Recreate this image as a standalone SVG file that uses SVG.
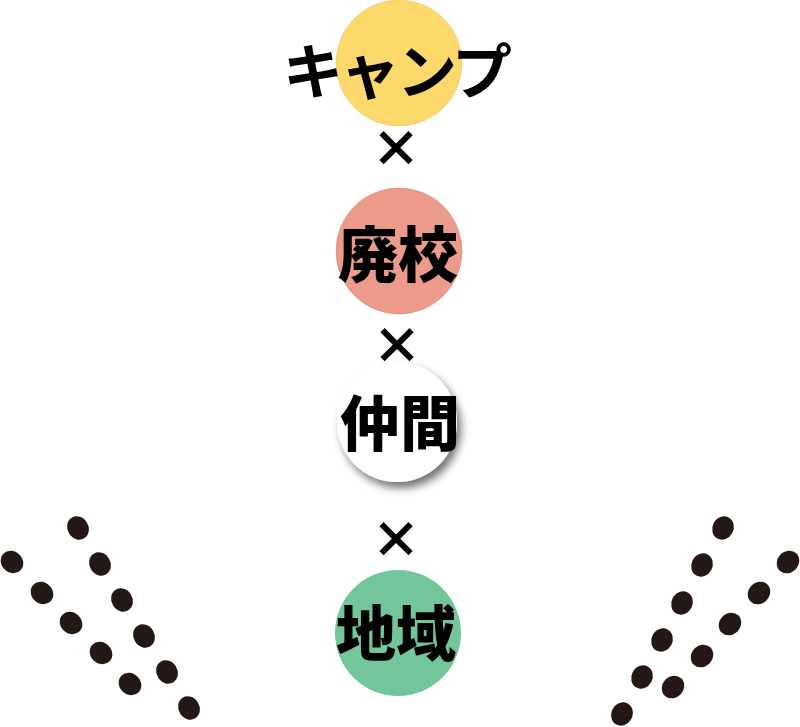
<svg xmlns="http://www.w3.org/2000/svg" width="800" height="727" viewBox="0 0 800 727">
<style>
.lbl{font-family:"Noto Sans CJK JP","Noto Sans CJK SC",sans-serif;font-weight:900;fill:#000;text-anchor:middle}
.x{font-family:"Noto Sans CJK JP","Noto Sans",sans-serif;font-weight:900;fill:#000;text-anchor:middle;font-size:50px}
.dot{fill:#231815}
</style>
<defs>
<filter id="sh" x="-30%" y="-30%" width="170%" height="170%">
<feDropShadow dx="4" dy="6" stdDeviation="4" flood-color="#000" flood-opacity="0.55"/>
</filter>
<ellipse id="d" class="dot" rx="12" ry="10.5"/>
</defs>
<rect width="800" height="727" fill="#fff"/>
<g id="camp">
<circle cx="399" cy="63" r="63" fill="#FDD96C" stroke="#e0c070" stroke-width="0.5"/>
<text class="lbl" x="396" y="94" font-size="60" letter-spacing="-3" style="font-weight:700">キャンプ</text>
</g>
<g id="haikou">
<circle cx="399" cy="251" r="63" fill="#EC9A8A" stroke="#c88070" stroke-width="0.5"/>
<text class="lbl" x="398" y="277" font-size="60">廃校</text>
</g>
<g id="times">
<text class="x" x="396" y="167">×</text>
<text class="x" x="397" y="364">×</text>
<text class="x" x="396" y="558">×</text>
</g>
<g id="nakama">
<circle cx="397" cy="422" r="60" fill="#fff" filter="url(#sh)"/>
<text class="lbl" x="400" y="446" font-size="60">仲間</text>
</g>
<g id="chiiki">
<circle cx="398" cy="633" r="63" fill="#73C59A"/>
<text class="lbl" x="396" y="656" font-size="60">地域</text>
</g>
<g id="connectors">
<g transform="translate(78,528) rotate(58)"><use href="#d"/></g>
<g transform="translate(100,564) rotate(58)"><use href="#d"/></g>
<g transform="translate(122,600) rotate(58)"><use href="#d"/></g>
<g transform="translate(144,636) rotate(58)"><use href="#d"/></g>
<g transform="translate(167,672) rotate(58)"><use href="#d"/></g>
<g transform="translate(189,708) rotate(58)"><use href="#d"/></g>
<g transform="translate(12,562) rotate(44)"><use href="#d"/></g>
<g transform="translate(42,593) rotate(44)"><use href="#d"/></g>
<g transform="translate(71,623) rotate(44)"><use href="#d"/></g>
<g transform="translate(101,653) rotate(44)"><use href="#d"/></g>
<g transform="translate(130,684) rotate(44)"><use href="#d"/></g>
<g transform="translate(723,528) rotate(-62)"><use href="#d"/></g>
<g transform="translate(702,565) rotate(-62)"><use href="#d"/></g>
<g transform="translate(682,603) rotate(-62)"><use href="#d"/></g>
<g transform="translate(662,640) rotate(-62)"><use href="#d"/></g>
<g transform="translate(642,677) rotate(-62)"><use href="#d"/></g>
<g transform="translate(622,714) rotate(-62)"><use href="#d"/></g>
<g transform="translate(788,562) rotate(-47)"><use href="#d"/></g>
<g transform="translate(759,593) rotate(-47)"><use href="#d"/></g>
<g transform="translate(730,624) rotate(-47)"><use href="#d"/></g>
<g transform="translate(702,656) rotate(-47)"><use href="#d"/></g>
<g transform="translate(673,687) rotate(-47)"><use href="#d"/></g>
</g>
</svg>
